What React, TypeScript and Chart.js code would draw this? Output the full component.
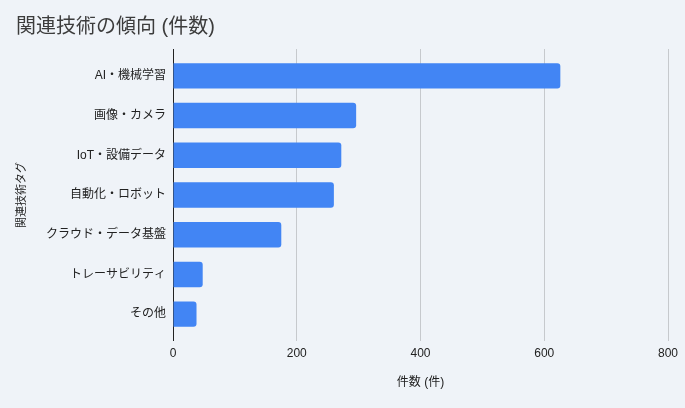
import { useEffect, useRef } from "react"
import { Chart, registerables } from "chart.js"

Chart.register(...registerables)

const categories = [
  "AI・機械学習",
  "画像・カメラ",
  "IoT・設備データ",
  "自動化・ロボット",
  "クラウド・データ基盤",
  "トレーサビリティ",
  "その他",
]
const counts = [626, 296, 272, 260, 175, 48, 38]
const xTicks = [0, 200, 400, 600, 800]

const FONT = "'Liberation Sans', 'Noto Sans CJK JP', sans-serif"
const BG = "#eff3f8"
const GRID = "#c6c9cd"
const AXIS = "#222222"

export default function App() {
  const canvasRef = useRef<HTMLCanvasElement>(null)
  const chartRef = useRef<Chart | null>(null)

  useEffect(() => {
    if (!canvasRef.current) return
    if (chartRef.current) chartRef.current.destroy()

    const ctx = canvasRef.current.getContext("2d")
    if (!ctx) return

    // grid / tick colour: the zero line doubles as the black y axis
    const lineColor = (c: any) => (c.tick && c.tick.value === 0 ? AXIS : GRID)

    chartRef.current = new Chart(ctx, {
      type: "bar",
      data: {
        labels: categories,
        datasets: [
          {
            label: "件数",
            data: counts,
            backgroundColor: "#4285f4",
            borderRadius: 3,
            borderSkipped: "start",
            barPercentage: 0.64,
            categoryPercentage: 1,
          },
        ],
      },
      options: {
        indexAxis: "y",
        responsive: false,
        animation: false,
        layout: { padding: { left: 16, right: 17, top: 0, bottom: 0 } },
        plugins: {
          legend: { display: false },
          tooltip: { enabled: false },
          title: {
            display: true,
            text: "関連技術の傾向 (件数)",
            align: "start",
            color: "#3c3c3c",
            font: { family: FONT, size: 20, weight: "normal", lineHeight: 1.2 },
            padding: { top: 15, bottom: 10 },
          },
        },
        scales: {
          x: {
            type: "linear",
            position: "bottom",
            min: xTicks[0],
            max: xTicks[xTicks.length - 1],
            afterBuildTicks: (s: any) => {
              s.ticks = xTicks.map((v) => ({ value: v }))
            },
            border: { display: false },
            grid: { color: lineColor, tickColor: lineColor, tickLength: 7 },
            ticks: { color: AXIS, padding: 5, font: { family: FONT, size: 12 } },
            title: {
              display: true,
              text: "件数 (件)",
              color: AXIS,
              font: { family: FONT, size: 12 },
              padding: { top: 0, bottom: 18 },
            },
            afterFit: (s: any) => {
              s.height = 74
            },
          },
          x2: {
            type: "linear",
            position: "top",
            min: xTicks[0],
            max: xTicks[xTicks.length - 1],
            afterBuildTicks: (s: any) => {
              s.ticks = xTicks.map((v) => ({ value: v }))
            },
            border: { display: false },
            grid: { drawOnChartArea: false, color: lineColor, tickColor: lineColor, tickLength: 7 },
            ticks: { display: false },
          },
          y: {
            type: "category",
            border: { display: true, color: AXIS, width: 1 },
            grid: { display: false, drawTicks: false },
            ticks: { color: AXIS, padding: 7, font: { family: FONT, size: 12 } },
            title: {
              display: true,
              text: "関連技術タグ",
              color: AXIS,
              font: { family: FONT, size: 11, lineHeight: 1 },
              padding: 0,
            },
            afterFit: (s: any) => {
              s.width = 157
            },
          },
        },
      },
    })

    return () => {
      if (chartRef.current) {
        chartRef.current.destroy()
        chartRef.current = null
      }
    }
  }, [])

  return (
    <div
      style={{
        position: "absolute",
        left: 0,
        top: 0,
        width: 685,
        height: 408,
        background: BG,
      }}
    >
      <canvas ref={canvasRef} width={685} height={408} />
    </div>
  )
}
